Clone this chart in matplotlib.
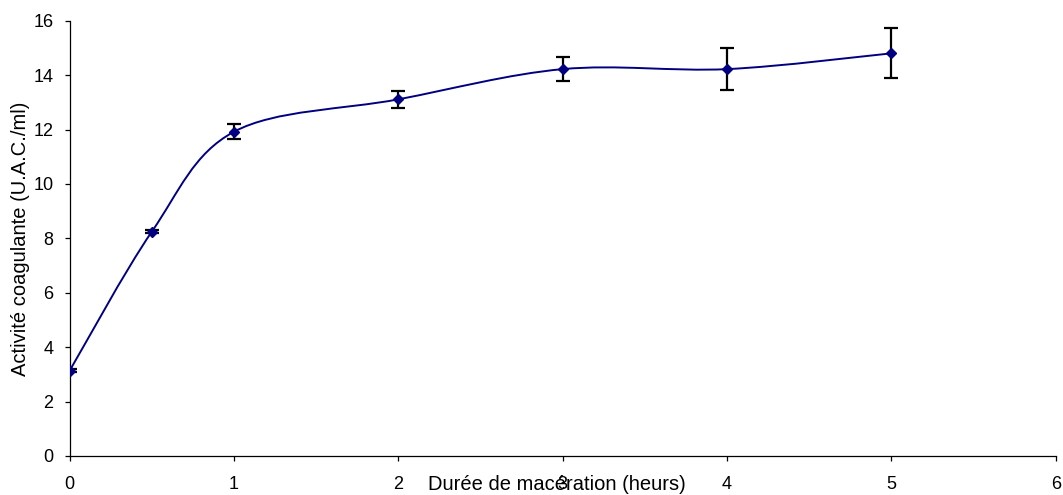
import matplotlib.pyplot as plt
from matplotlib.path import Path
from matplotlib.patches import PathPatch

# Données
duree = [0, 0.5, 1, 2, 3, 4, 5]
activite = [3.14, 8.25, 11.92, 13.11, 14.22, 14.22, 14.80]
ecart = [0.05, 0.07, 0.27, 0.32, 0.44, 0.78, 0.92]

plt.rcParams['font.family'] = ['Liberation Sans', 'DejaVu Sans']
plt.rcParams['font.size'] = 13

fig = plt.figure(figsize=(10.63, 4.95), dpi=100)
ax = fig.add_axes([0.0656, 0.0788, 0.9276, 0.8794])

# Courbe lissée (style Excel : Bezier de type Catmull-Rom entre les points)
pts = list(zip(duree, activite))
verts = [pts[0]]
codes = [Path.MOVETO]
for i in range(len(pts) - 1):
    p0 = pts[i - 1] if i > 0 else pts[i]
    p1 = pts[i]
    p2 = pts[i + 1]
    p3 = pts[i + 2] if i + 2 < len(pts) else pts[i + 1]
    c1 = (p1[0] + (p2[0] - p0[0]) / 6, p1[1] + (p2[1] - p0[1]) / 6)
    c2 = (p2[0] - (p3[0] - p1[0]) / 6, p2[1] - (p3[1] - p1[1]) / 6)
    verts += [c1, c2, p2]
    codes += [Path.CURVE4] * 3
courbe = PathPatch(Path(verts, codes), facecolor='none', edgecolor='#000080',
                   lw=1.4, zorder=3)
ax.add_patch(courbe)

ax.errorbar(duree, activite, yerr=ecart, fmt='none', ecolor='black',
            elinewidth=1.6, capsize=5.3, capthick=1.6, zorder=2)
ax.plot(duree, activite, linestyle='none', marker='D', markersize=4.6,
        color='#000080', zorder=4)

ax.set_xlim(0, 6)
ax.set_ylim(0, 16)
ax.set_xticks(range(0, 7))
ax.set_yticks(range(0, 17, 2))

for s in ['top', 'right']:
    ax.spines[s].set_visible(False)
for s in ['left', 'bottom']:
    ax.spines[s].set_linewidth(0.9)
    ax.spines[s].set_color('black')
ax.tick_params(direction='out', length=3.6, width=0.9, labelsize=13)
ax.tick_params(axis='x', pad=11)
ax.tick_params(axis='y', pad=8)

ax.set_xlabel('Durée de macération (heurs)', fontsize=14.5)
ax.xaxis.set_label_coords(0.494, -0.043)
ax.set_ylabel('Activité coagulante (U.A.C./ml)', fontsize=14.5)
ax.yaxis.set_label_coords(-0.0405, 0.5)

fig.savefig('out.png', dpi=100)
